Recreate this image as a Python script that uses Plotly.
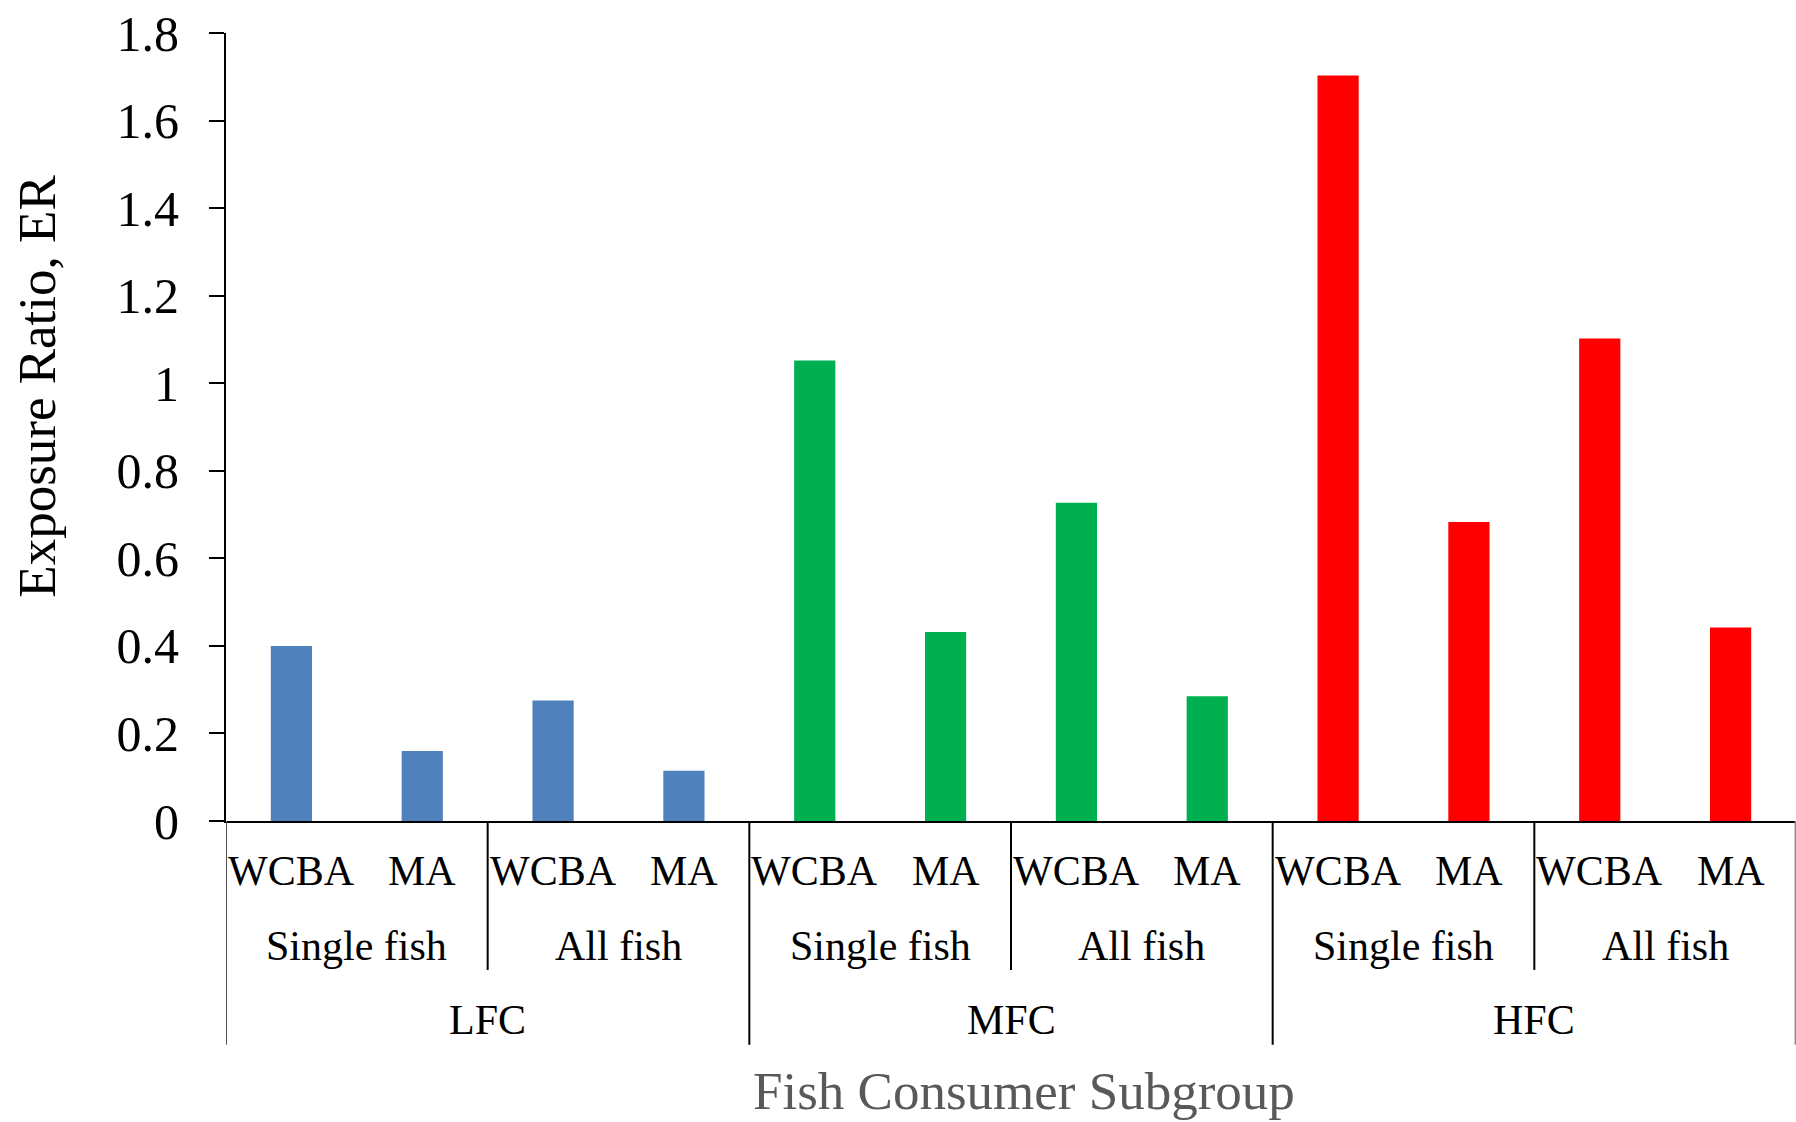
import plotly.graph_objects as go

# Category hierarchy: consumer subgroup > fish scope > exposure method
consumer_groups = ["LFC", "MFC", "HFC"]
fish_scopes = ["Single fish", "All fish"]
methods = ["WCBA", "MA"]

# Exposure ratio per subgroup, ordered Single fish (WCBA, MA), All fish (WCBA, MA)
lfc_er = [0.400, 0.160, 0.275, 0.115]
mfc_er = [1.052, 0.432, 0.727, 0.285]
hfc_er = [1.703, 0.683, 1.102, 0.442]

group_colors = ["#4F81BD", "#00B050", "#FF0000"]

y_ticks = [0, 0.2, 0.4, 0.6, 0.8, 1.0, 1.2, 1.4, 1.6, 1.8]
y_ticktext = ["0", "0.2", "0.4", "0.6", "0.8", "1", "1.2", "1.4", "1.6", "1.8"]

FONT = "Liberation Serif, Times New Roman, serif"

# Unique id for every bar slot, in drawing order
slots = [f"{g}|{s}|{m}" for g in consumer_groups for s in fish_scopes for m in methods]

fig = go.Figure()
for gi, (group, values, color) in enumerate(zip(consumer_groups, [lfc_er, mfc_er, hfc_er], group_colors)):
    fig.add_trace(go.Bar(
        x=slots[gi * 4:(gi + 1) * 4],
        y=values,
        marker=dict(color=color, line=dict(width=0)),
        width=0.315,
        name=group,
        showlegend=False,
    ))

annotations = []
shapes = []

# Row positions (paper coordinates, below the plot area)
row_method = -0.064
row_scope = -0.158
row_group = -0.253
sep_scope_bottom = -0.189
sep_group_bottom = -0.284

label_font = dict(family=FONT, size=42, color="black")

for i, slot in enumerate(slots):
    annotations.append(dict(x=slot, y=row_method, xref="x", yref="paper",
                            text=slot.split("|")[2], showarrow=False,
                            font=label_font, xanchor="center", yanchor="middle"))

for gi, group in enumerate(consumer_groups):
    for si, scope in enumerate(fish_scopes):
        center = gi * 4 + si * 2 + 0.5
        annotations.append(dict(x=center, y=row_scope, xref="x", yref="paper",
                                text=scope, showarrow=False, font=label_font,
                                xanchor="center", yanchor="middle"))
    annotations.append(dict(x=gi * 4 + 1.5, y=row_group, xref="x", yref="paper",
                            text=group, showarrow=False, font=label_font,
                            xanchor="center", yanchor="middle"))

# Separators between fish scopes within each subgroup
for gi in range(len(consumer_groups)):
    xs = gi * 4 + 1.5
    shapes.append(dict(type="line", xref="x", yref="paper", x0=xs, x1=xs,
                       y0=0, y1=sep_scope_bottom, line=dict(color="black", width=2)))

# Separators between consumer subgroups (including outer edges)
for xs, col in [(-0.5, "#555555"), (3.5, "black"), (7.5, "black"), (11.497, "#888888")]:
    shapes.append(dict(type="line", xref="x", yref="paper", x0=xs, x1=xs,
                       y0=0, y1=sep_group_bottom, line=dict(color=col, width=2)))

# Axis titles
annotations.append(dict(x=0.508, y=-0.343, xref="paper", yref="paper",
                        text="Fish Consumer Subgroup", showarrow=False,
                        font=dict(family=FONT, size=53, color="#595959"),
                        xanchor="center", yanchor="middle"))
annotations.append(dict(x=(36.7 - 226) / 1570, y=0.552, xref="paper", yref="paper",
                        text="Exposure Ratio, ER", showarrow=False, textangle=-90,
                        font=dict(family=FONT, size=53, color="black"),
                        xanchor="center", yanchor="middle"))

fig.update_layout(
    width=1796,
    height=1122,
    margin=dict(l=226, r=0, t=33, b=301),
    plot_bgcolor="white",
    paper_bgcolor="white",
    font=dict(family=FONT, color="black"),
    annotations=annotations,
    shapes=shapes,
    xaxis=dict(
        type="category",
        categoryorder="array",
        categoryarray=slots,
        range=[-0.5, 11.5],
        showticklabels=False,
        ticks="",
        showgrid=False,
        showline=True,
        linecolor="black",
        linewidth=2,
        zeroline=False,
    ),
    yaxis=dict(
        range=[0, 1.8],
        tickvals=y_ticks,
        ticktext=y_ticktext,
        ticks="outside",
        ticklen=15,
        tickwidth=2,
        tickcolor="black",
        ticklabelstandoff=20,
        tickfont=dict(family=FONT, size=50, color="black"),
        showgrid=False,
        showline=True,
        linecolor="black",
        linewidth=2,
        zeroline=False,
    ),
)

fig.write_html("out.html")
